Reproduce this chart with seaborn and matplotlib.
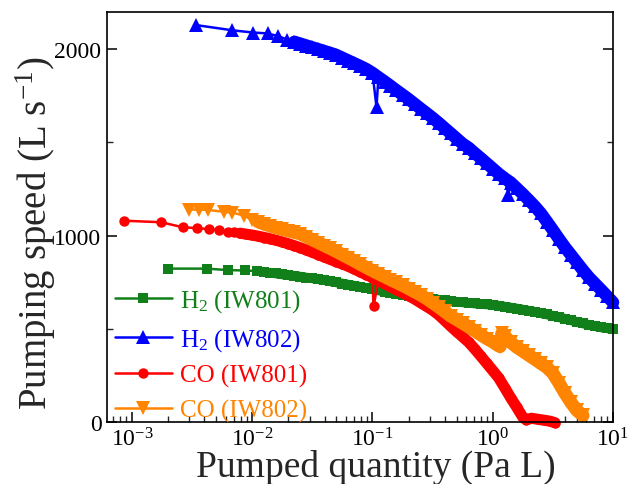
import numpy as np
import pandas as pd
import matplotlib
matplotlib.use("Agg")
import matplotlib.pyplot as plt
import seaborn as sns
from matplotlib.ticker import LogLocator, FixedLocator, NullFormatter

# ---------------- data ----------------
labels = ["H$_2$ (IW801)", "H$_2$ (IW802)", "CO (IW801)", "CO (IW802)"]

h2_801_x = [0.0020, 0.0042, 0.0063, 0.0087, 0.0109,
            0.0126, 0.0141, 0.0158, 0.0178, 0.0200, 0.0224, 0.0251, 0.0282, 0.0316, 0.0355,
            0.0398, 0.0447, 0.0501, 0.0562, 0.0631, 0.0708, 0.0794, 0.0891, 0.100, 0.112,
            0.126, 0.141, 0.158, 0.178, 0.200, 0.224, 0.251, 0.282, 0.316, 0.355,
            0.398, 0.447, 0.501, 0.562, 0.631, 0.708, 0.794, 0.891, 1.00, 1.12,
            1.26, 1.41, 1.58, 1.78, 2.00, 2.24, 2.51, 2.82, 3.16, 3.55,
            3.98, 4.47, 5.01, 5.62, 6.31, 7.08, 7.94, 8.91, 10.0]
h2_801_y = [823, 823, 815, 813, 810,
            806, 801, 797, 792, 788, 784, 780, 775, 771, 766,
            761, 755, 749, 743, 737, 731, 725, 719, 713, 706,
            700, 694, 688, 683, 678, 674, 669, 664, 660, 656,
            652, 648, 645, 642, 639, 636, 633, 631, 628, 624,
            619, 614, 609, 603, 597, 591, 584, 577, 570, 562,
            554, 546, 537, 529, 521, 514, 508, 503, 498]

h2_802_x = [0.0034, 0.0068, 0.0101, 0.0134, 0.0165, 0.0195,
            0.0224, 0.0251, 0.0282, 0.0316, 0.0355, 0.0398, 0.0447, 0.0501, 0.0562, 0.0631,
            0.0708, 0.0794, 0.0891, 0.100, 0.108,
            0.112, 0.126, 0.141, 0.158, 0.178, 0.200, 0.224, 0.251, 0.282, 0.316,
            0.355, 0.398, 0.447, 0.501, 0.562, 0.631, 0.708, 0.794, 0.891, 1.00,
            1.12, 1.26, 1.35, 1.41, 1.58, 1.78, 2.00, 2.24, 2.51, 2.82, 3.16,
            3.55, 3.98, 4.47, 5.01, 5.62, 6.31, 7.08, 7.94, 8.91, 10.0]
h2_802_y = [2130, 2102, 2090, 2085, 2070, 2052,
            2040, 2030, 2020, 2010, 2000, 1990, 1980, 1969, 1954, 1939,
            1924, 1909, 1893, 1873, 1690,
            1850, 1827, 1804, 1780, 1756, 1732, 1707, 1682, 1657, 1632,
            1605, 1577, 1549, 1521, 1493, 1471, 1443, 1416, 1388, 1360,
            1332, 1307, 1220, 1285, 1255, 1223, 1190, 1157, 1120, 1075, 1030,
            983, 938, 897, 856, 815, 776, 743, 710, 676, 642]

co_801_x = [0.00086, 0.00174, 0.00265, 0.0035, 0.0044, 0.0053,
            0.0063, 0.0071, 0.0079, 0.0089, 0.0100, 0.0112, 0.0126, 0.0141, 0.0158, 0.0178,
            0.0200, 0.0224, 0.0251, 0.0282, 0.0316, 0.0355, 0.0398, 0.0447, 0.0501, 0.0562,
            0.0631, 0.0708, 0.0794, 0.0891, 0.100, 0.102,
            0.112, 0.126, 0.141, 0.158, 0.178, 0.200, 0.224, 0.251, 0.282, 0.316,
            0.355, 0.398, 0.447, 0.501, 0.562, 0.631, 0.708, 0.794, 0.891, 1.00,
            1.12, 1.26, 1.41, 1.58, 1.78,
            1.90, 2.10, 2.40, 2.70, 3.00, 3.30]
co_801_y = [1080, 1072, 1045, 1040, 1035, 1030,
            1022, 1018, 1013, 1008, 1003, 997, 990, 983, 975, 966,
            956, 946, 935, 923, 910, 898, 885, 872, 860, 848,
            835, 820, 805, 790, 775, 620,
            759, 743, 727, 710, 694, 677, 660, 640, 620, 600,
            575, 545, 514, 485, 457, 428, 392, 354, 315, 276,
            237, 183, 130, 80, 25,
            12, 20, 14, 9, 4, -4]

co_802_x = [0.00298, 0.0036, 0.0043, 0.0058, 0.0068, 0.0085,
            0.0100, 0.0112, 0.0126, 0.0141, 0.0158, 0.0178, 0.0200, 0.0224, 0.0251, 0.0282,
            0.0316, 0.0355, 0.0398, 0.0447, 0.0501, 0.0562, 0.0631, 0.0708, 0.0794, 0.0891,
            0.100, 0.112, 0.126, 0.141, 0.158, 0.178, 0.200, 0.224, 0.251, 0.282,
            0.316, 0.355, 0.398, 0.447, 0.501, 0.562, 0.631, 0.708, 0.794, 0.891,
            1.00, 1.10, 1.15, 1.19,
            1.26, 1.41, 1.58, 1.78, 2.00, 2.24, 2.51, 2.82, 3.16, 3.55,
            3.98, 4.47, 5.01, 5.62]
co_802_y = [1140, 1140, 1138, 1128, 1124, 1108,
            1085, 1075, 1062, 1052, 1043, 1034, 1026, 1018, 1010, 994,
            978, 962, 947, 931, 915, 898, 881, 864, 846, 829,
            812, 796, 780, 764, 749, 733, 716, 699, 682, 662,
            640, 617, 593, 568, 550, 530, 510, 490, 468, 448,
            430, 412, 405, 475,
            460, 428, 402, 380, 358, 337, 315, 293, 262, 210,
            155, 105, 62, 35]

# isolated single-point excursions (drawn with the thin line only)
h2_802_spikes = [0.108, 1.35]
co_801_spikes = [0.102]

y_major = [0, 1000, 2000]
y_minor = [500, 1500]

# ---------------- style ----------------
sns.set_style("ticks")
plt.rcParams.update({
    "font.family": ["Liberation Serif", "DejaVu Serif"],
    "mathtext.fontset": "custom",
    "mathtext.rm": "Liberation Serif",
    "mathtext.it": "Liberation Serif:italic",
    "mathtext.bf": "Liberation Serif:bold",
    "axes.edgecolor": "black",
    "axes.linewidth": 1.2,
})

# (x, y, colour, marker, markersize, first index of dense band, band width, spikes)
series = [
    (h2_801_x, h2_801_y, "#12801a", "s", 6.5, 6, 7.0, []),
    (h2_802_x, h2_802_y, "#0000ff", "^", 9.5, 6, 9.0, h2_802_spikes),
    (co_801_x, co_801_y, "#ff0000", "o", 7.5, 8, 8.0, co_801_spikes),
    (co_802_x, co_802_y, "#ff8400", "v", 9.5, 7, 9.5, []),
]

fig = plt.figure(figsize=(6.31, 4.85), dpi=100)
ax = fig.add_axes([107 / 631, 1 - 423 / 485, 506 / 631, 410 / 485])

for (xs, ys, col, mk, ms, k, bw, spikes), lab in zip(series, labels):
    df = pd.DataFrame({"q": xs, "s": ys})
    band = df.iloc[k:]
    band = band[~band["q"].isin(spikes)]
    sns.lineplot(data=band, x="q", y="s", ax=ax, color=col, linewidth=bw,
                 sort=False, estimator=None, clip_on=False, legend=False,
                 solid_joinstyle="round", solid_capstyle="round")
    sns.lineplot(data=df, x="q", y="s", ax=ax, color=col, marker=mk,
                 markersize=ms, markeredgewidth=0, linewidth=1.8,
                 label=lab, sort=False, estimator=None, clip_on=False)

ax.set_xscale("log")
ax.set_xlim(6.2e-4, 10)
ax.set_ylim(0, 2200)

ax.xaxis.set_major_locator(LogLocator(base=10, numticks=10))
ax.xaxis.set_minor_locator(LogLocator(base=10, subs=np.arange(2, 10), numticks=20))
ax.xaxis.set_minor_formatter(NullFormatter())
ax.yaxis.set_major_locator(FixedLocator(y_major))
ax.yaxis.set_minor_locator(FixedLocator(y_minor))

ax.tick_params(which="major", direction="in", length=7, width=1.1,
               labelsize=17, top=False, right=True, pad=4, colors="black")
ax.tick_params(axis="x", which="major", pad=4)
ax.tick_params(which="minor", direction="in", length=4, width=1.0,
               top=False, right=True)

ax.set_xlabel("Pumped quantity (Pa L)", fontsize=27)
ax.set_ylabel("Pumping speed (L s$^{-1}$)", fontsize=28)
ax.xaxis.set_label_coords(0.532, -0.066)
ax.yaxis.set_label_coords(-0.097, 0.462)

leg = ax.legend(loc="lower left", bbox_to_anchor=(0.015, 0.0), frameon=False,
                fontsize=18, handlelength=2.3, handletextpad=0.3,
                labelspacing=0.46, borderpad=0.0, borderaxespad=0.0,
                labelcolor="linecolor")

fig.savefig("out.png", dpi=100)
